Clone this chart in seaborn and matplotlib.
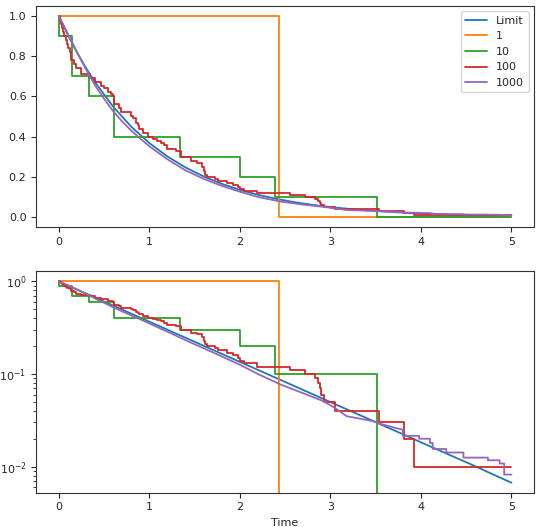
"""
Empirical survival curves vs. the exponential limit, linear and log scale.
"""

import matplotlib
matplotlib.use("Agg")
import matplotlib.pyplot as plt
import seaborn as sns

# Limit curve
limit_t = [0, 0.1, 0.2, 0.3, 0.4, 0.6, 0.8, 1.0, 1.2, 1.4, 1.6, 1.8, 2.0, 2.2, 2.4,
           2.6, 2.8, 3.0, 3.2, 3.4, 3.6, 3.8, 4.0, 4.2, 4.4, 4.6, 4.8, 5.0]
limit_s = [1.0, 0.9048, 0.8187, 0.7408, 0.6703, 0.5488, 0.4493, 0.3679, 0.3012,
           0.2466, 0.2019, 0.1653, 0.1353, 0.1108, 0.0907, 0.0743, 0.0608, 0.0498,
           0.0408, 0.0334, 0.0273, 0.0224, 0.0183, 0.0150, 0.0123, 0.0101, 0.0082,
           0.0067]

# n = 1
one_t = [0, 2.43, 5.0]
one_s = [1.0, 0.0, 0.0]

# n = 10
ten_t = [0, 0.005, 0.147, 0.33, 0.61, 1.344, 2.0, 2.385, 3.51, 5.0]
ten_s = [1.0, 0.9, 0.7, 0.6, 0.4, 0.3, 0.2, 0.1, 0.0, 0.0]

# n = 100
hund_t = [0, 0.01, 0.02, 0.03, 0.045, 0.06, 0.075, 0.09, 0.105, 0.12, 0.14, 0.17,
          0.19, 0.25, 0.34, 0.40, 0.47, 0.50, 0.54, 0.58, 0.60, 0.605, 0.615, 0.66,
          0.69, 0.80, 0.82, 0.85, 0.87, 0.89, 0.93, 0.98, 1.04, 1.08, 1.13, 1.16,
          1.20, 1.30, 1.35, 1.46, 1.53, 1.58, 1.60, 1.62, 1.64, 1.72, 1.76, 1.86,
          1.92, 1.98, 2.00, 2.05, 2.19, 2.55, 2.72, 2.83, 2.86, 2.88, 2.90, 2.93,
          3.05, 3.54, 3.81, 3.92, 5.0]
hund_s = [1.0, 0.98, 0.96, 0.94, 0.92, 0.90, 0.88, 0.86, 0.84, 0.82, 0.78, 0.76,
          0.74, 0.71, 0.69, 0.67, 0.65, 0.64, 0.62, 0.61, 0.60, 0.58, 0.56, 0.54,
          0.52, 0.50, 0.49, 0.47, 0.46, 0.44, 0.42, 0.40, 0.39, 0.38, 0.37, 0.36,
          0.34, 0.33, 0.30, 0.28, 0.27, 0.25, 0.23, 0.21, 0.20, 0.19, 0.18, 0.17,
          0.16, 0.15, 0.14, 0.13, 0.12, 0.11, 0.10, 0.09, 0.08, 0.07, 0.06, 0.05,
          0.04, 0.03, 0.02, 0.01, 0.01]

# n = 1000 (fine steps, traced as vertices)
thou_t = [0, 0.1, 0.2, 0.3, 0.4, 0.5, 0.6, 0.7, 0.8, 0.9, 1.0, 1.2, 1.4, 1.6, 1.8,
          2.0, 2.2, 2.45, 2.7, 2.92, 3.05, 3.18, 3.47, 3.55, 3.73, 3.80, 3.80, 3.98,
          3.98, 4.10, 4.10, 4.13, 4.13, 4.28, 4.28, 4.47, 4.47, 4.74, 4.74, 4.87,
          4.87, 4.92, 4.92, 5.0]
thou_s = [1.0, 0.91, 0.82, 0.735, 0.655, 0.588, 0.526, 0.475, 0.43, 0.39, 0.352,
          0.287, 0.232, 0.19, 0.155, 0.126, 0.100, 0.077, 0.062, 0.051, 0.043,
          0.035, 0.031, 0.029, 0.026, 0.025, 0.0215, 0.0215, 0.020, 0.020, 0.018,
          0.018, 0.0155, 0.0155, 0.0142, 0.0142, 0.0125, 0.0125, 0.0117, 0.0117,
          0.0108, 0.0108, 0.0082, 0.0082]

series = [
    ("Limit", limit_t, limit_s, "default"),
    ("1", one_t, one_s, "steps-post"),
    ("10", ten_t, ten_s, "steps-post"),
    ("100", hund_t, hund_s, "steps-post"),
    ("1000", thou_t, thou_s, "default"),
]


def draw_curves(ax, legend=False):
    """Draw all survival curves on one axis."""
    colors = sns.color_palette("tab10")
    for i, (name, t, s, style) in enumerate(series):
        sns.lineplot(x=t, y=s, ax=ax, color=colors[i], label=name if legend else None,
                     estimator=None, sort=False, drawstyle=style, linewidth=1.3)
    for spine in ax.spines.values():
        spine.set_color('#333333')


def main():
    sns.set_style("ticks")
    plt.rcParams['font.family'] = ['DejaVu Sans']
    plt.rcParams['font.size'] = 8

    fig, (ax1, ax2) = plt.subplots(2, 1, figsize=(5.4, 5.27), dpi=100)
    fig.subplots_adjust(left=0.067, right=0.989, top=0.989, bottom=0.065, hspace=0.2)

    draw_curves(ax1, legend=True)
    ax1.legend(loc='upper right', fontsize=8)
    ax1.set_xticks([0, 1, 2, 3, 4, 5])

    draw_curves(ax2)
    ax2.set_yscale('log')
    ax2.set_xticks([0, 1, 2, 3, 4, 5])
    ax2.set_xlabel('Time')

    plt.savefig("out.png", dpi=100)
    plt.close()


if __name__ == "__main__":
    main()
